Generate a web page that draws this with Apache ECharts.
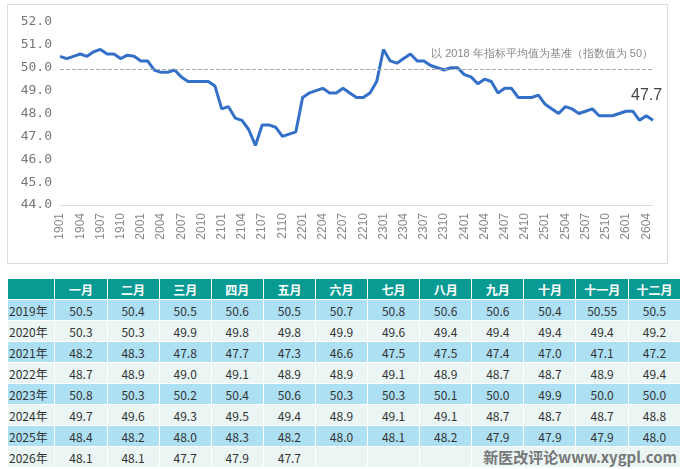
<!DOCTYPE html>
<html><head><meta charset="utf-8">
<script src="https://cdn.jsdelivr.net/npm/echarts@6/dist/echarts.min.js"></script>
<style>
body{margin:0;width:681px;height:469px;background:#fff;font-family:"Noto Sans CJK SC","Noto Sans",sans-serif;position:relative;overflow:hidden}
#box{position:absolute;left:7px;top:4px;width:659px;height:258px;border:1px solid #ddd}
#chart{position:absolute;left:0;top:0;width:681px;height:268px}
table{position:absolute;left:7px;top:278px;border-collapse:separate;border-spacing:1px;font-size:12px}
td,th{height:20px;padding:0;text-align:center;color:#333}
th{background:#0a9a94;color:#fff;font-weight:bold;width:52px}
th:first-child{width:47px}
td:first-child{text-align:left;padding-left:1px}
tr.o td{background:#aee0f4}
tr.e td{background:#eaf5f4}
#wm{position:absolute;right:4px;bottom:2px;font-size:15px;color:#777;font-weight:bold}
</style></head>
<body>
<div id="box"></div>
<div id="chart"></div>
<table id="tbl"></table>
<div id="wm">新医改评论www.xygpl.com</div>
<script>
var years = ['2019年', '2020年', '2021年', '2022年', '2023年', '2024年', '2025年', '2026年'];
var months = ['一月', '二月', '三月', '四月', '五月', '六月', '七月', '八月', '九月', '十月', '十一月', '十二月'];
var v2019 = [50.5, 50.4, 50.5, 50.6, 50.5, 50.7, 50.8, 50.6, 50.6, 50.4, 50.55, 50.5];
var v2020 = [50.3, 50.3, 49.9, 49.8, 49.8, 49.9, 49.6, 49.4, 49.4, 49.4, 49.4, 49.2];
var v2021 = [48.2, 48.3, 47.8, 47.7, 47.3, 46.6, 47.5, 47.5, 47.4, 47.0, 47.1, 47.2];
var v2022 = [48.7, 48.9, 49.0, 49.1, 48.9, 48.9, 49.1, 48.9, 48.7, 48.7, 48.9, 49.4];
var v2023 = [50.8, 50.3, 50.2, 50.4, 50.6, 50.3, 50.3, 50.1, 50.0, 49.9, 50.0, 50.0];
var v2024 = [49.7, 49.6, 49.3, 49.5, 49.4, 48.9, 49.1, 49.1, 48.7, 48.7, 48.7, 48.8];
var v2025 = [48.4, 48.2, 48.0, 48.3, 48.2, 48.0, 48.1, 48.2, 47.9, 47.9, 47.9, 48.0];
var v2026 = [48.1, 48.1, 47.7, 47.9, 47.7];
var rows = [v2019, v2020, v2021, v2022, v2023, v2024, v2025, v2026];

// 表格
var html = '<tr><th></th>' + months.map(function(m) { return '<th>' + m + '</th>' }).join('') + '</tr>';
rows.forEach(function(r, i) {
    html += '<tr class="' + (i % 2 ? 'e' : 'o') + '"><td>' + years[i] + '</td>';
    for (var k = 0; k < 12; k++) {
        html += '<td>' + (r[k] === undefined ? '' : (r[k] === 50.55 ? '50.55' : r[k].toFixed(1))) + '</td>';
    }
    html += '</tr>';
});
document.getElementById('tbl').innerHTML = html;

// 折线数据
var cats = [], data = [];
rows.forEach(function(r, i) {
    r.forEach(function(v, k) {
        cats.push(String(19 + i) + (k < 9 ? '0' : '') + (k + 1));
        data.push(v);
    });
});

var myChart = echarts.init(document.getElementById('chart'));
var option = {
    animation: false,
    grid: { left: 60, right: 28, top: 22, bottom: 63 },
    xAxis: {
        type: 'category',
        boundaryGap: false,
        data: cats,
        axisLine: { lineStyle: { color: '#ddd' } },
        axisTick: { show: false },
        axisLabel: { interval: 2, rotate: 90, color: '#888', fontSize: 12, margin: 8 }
    },
    yAxis: {
        type: 'value',
        min: 44, max: 52, interval: 1,
        splitLine: { show: false },
        axisLabel: { color: '#777', fontSize: 13, fontFamily: 'DejaVu Sans Mono', formatter: function(v) { return v.toFixed(1) } }
    },
    series: [{
        type: 'line',
        data: data,
        symbol: 'none',
        lineStyle: { color: '#3470c8', width: 3 },
        endLabel: { show: true, color: '#444', fontSize: 16, offset: [-30, -25], formatter: function(p) { return p.value.toFixed(1) } },
        markLine: {
            symbol: 'none', silent: true,
            lineStyle: { color: '#aaa', type: 'dashed', width: 1 },
            label: { show: false },
            data: [{ yAxis: 49.95 }]
        }
    }],
    graphic: [{
        type: 'text', right: 28, top: 48,
        style: { text: '以 2018 年指标平均值为基准（指数值为 50）', fill: '#888', fontSize: 11 }
    }]
};
myChart.setOption(option);
</script>
</body></html>
